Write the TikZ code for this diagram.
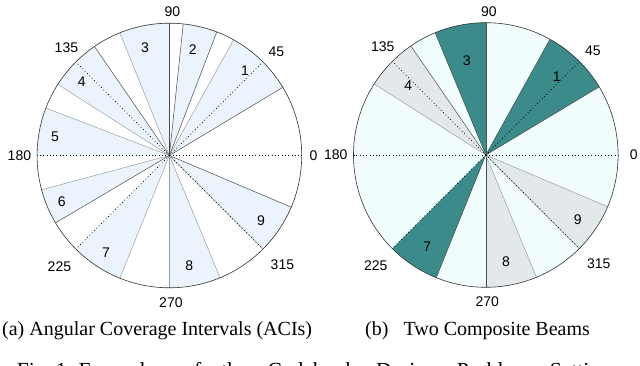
\documentclass[tikz,border=0pt]{standalone}
\usepackage{fontspec}
\setmainfont{Liberation Serif}
\newfontfamily\plotfont{Liberation Sans}
\usepackage{xcolor}
\definecolor{aciblue}{RGB}{235,243,253}
\definecolor{beamteal}{RGB}{58,139,137}
\definecolor{beamgray}{RGB}{227,233,235}
\definecolor{beampale}{RGB}{241,252,253}
\newcommand{\plotR}{132.3pt}
\tikzset{
  rim/.style={draw=black!80, line width=0.6pt},
  spoke/.style={draw=black!70, line width=0.5pt},
  spokelight/.style={draw=black!38, line width=0.5pt},
  gridline/.style={draw=black, line width=0.7pt, dash pattern=on 0.8pt off 2.5pt},
  tick/.style={font=\plotfont\fontsize{14}{16}\selectfont, inner sep=0pt},
  aci/.style={font=\plotfont\fontsize{14}{16}\selectfont, inner sep=0pt},
  caption/.style={font=\fontsize{20}{24}\selectfont, inner sep=0pt, anchor=base west}
}

\begin{document}
\begin{tikzpicture}[x=1pt, y=1pt]
  \useasboundingbox (0,0) rectangle (640,366);
  \coordinate (L) at (169.4,210.5);
  \coordinate (R) at (485.8,211);

  % (a) angular coverage intervals
  \fill[white] (L) circle[radius=\plotR];
  \fill[aciblue] (L) -- +(31:\plotR) arc[start angle=31, end angle=61, radius=\plotR] -- cycle;
  \fill[aciblue] (L) -- +(69:\plotR) arc[start angle=69, end angle=84, radius=\plotR] -- cycle;
  \fill[aciblue] (L) -- +(90:\plotR) arc[start angle=90, end angle=112, radius=\plotR] -- cycle;
  \fill[aciblue] (L) -- +(124.5:\plotR) arc[start angle=124.5, end angle=147.5, radius=\plotR] -- cycle;
  \fill[aciblue] (L) -- +(159:\plotR) arc[start angle=159, end angle=180, radius=\plotR] -- cycle;
  \fill[aciblue] (L) -- +(195:\plotR) arc[start angle=195, end angle=210.6, radius=\plotR] -- cycle;
  \fill[aciblue] (L) -- +(225:\plotR) arc[start angle=225, end angle=248, radius=\plotR] -- cycle;
  \fill[aciblue] (L) -- +(270:\plotR) arc[start angle=270, end angle=292.5, radius=\plotR] -- cycle;
  \fill[aciblue] (L) -- +(315:\plotR) arc[start angle=315, end angle=337, radius=\plotR] -- cycle;

  \draw[spoke] (L) -- +(31:\plotR);
  \draw[spokelight] (L) -- +(61:\plotR);
  \draw[spoke] (L) -- +(69:\plotR);
  \draw[spoke] (L) -- +(84:\plotR);
  \draw[spoke] (L) -- +(90:\plotR);
  \draw[spokelight] (L) -- +(112:\plotR);
  \draw[spoke] (L) -- +(124.5:\plotR);
  \draw[spokelight] (L) -- +(147.5:\plotR);
  \draw[spokelight] (L) -- +(159:\plotR);
  \draw[spokelight] (L) -- +(195:\plotR);
  \draw[spoke] (L) -- +(210.6:\plotR);
  \draw[spokelight] (L) -- +(248:\plotR);
  \draw[spokelight] (L) -- +(270:\plotR);
  \draw[spokelight] (L) -- +(292.5:\plotR);
  \draw[spokelight] (L) -- +(315:\plotR);
  \draw[spoke] (L) -- +(337:\plotR);

  \draw[gridline] (L) -- +(0:\plotR);
  \draw[gridline] (L) -- +(45:\plotR);
  \draw[gridline] (L) -- +(135:\plotR);
  \draw[gridline] (L) -- +(180:\plotR);
  \draw[gridline] (L) -- +(225:\plotR);
  \draw[gridline] (L) -- +(315:\plotR);
  \draw[rim] (L) circle[radius=\plotR];

  \node[tick] (la0) at ([shift={(144,0)}]L) {0};
  \node[tick] (la45) at ([shift={(107,104)}]L) {45};
  \node[tick] (la90) at ([shift={(3,143.5)}]L) {90};
  \node[tick] (la135) at ([shift={(-103,108)}]L) {135};
  \node[tick] (la180) at ([shift={(-150,0)}]L) {180};
  \node[tick] (la225) at ([shift={(-110,-111)}]L) {225};
  \node[tick] (la270) at ([shift={(1.5,-147)}]L) {270};
  \node[tick] (la315) at ([shift={(113,-109)}]L) {315};

  \node[aci] (a1) at (245,295.3) {1};
  \node[aci] (a2) at (192.7,316.7) {2};
  \node[aci] (a3) at (145,318.7) {3};
  \node[aci] (a4) at (81.7,284.3) {4};
  \node[aci] (a5) at (55,229.3) {5};
  \node[aci] (a6) at (61.7,164.3) {6};
  \node[aci] (a7) at (106,113.3) {7};
  \node[aci] (a8) at (189.3,100.3) {8};
  \node[aci] (a9) at (261,145.3) {9};

  % (b) two composite beams
  \fill[beampale] (R) circle[radius=\plotR];
  \fill[beamteal] (R) -- +(31:\plotR) arc[start angle=31, end angle=61, radius=\plotR] -- cycle;
  \fill[beamteal] (R) -- +(90:\plotR) arc[start angle=90, end angle=112.5, radius=\plotR] -- cycle;
  \fill[beamteal] (R) -- +(225:\plotR) arc[start angle=225, end angle=248, radius=\plotR] -- cycle;
  \fill[beamgray] (R) -- +(124.5:\plotR) arc[start angle=124.5, end angle=147.5, radius=\plotR] -- cycle;
  \fill[beamgray] (R) -- +(270:\plotR) arc[start angle=270, end angle=292.5, radius=\plotR] -- cycle;
  \fill[beamgray] (R) -- +(315:\plotR) arc[start angle=315, end angle=337, radius=\plotR] -- cycle;

  \draw[spoke] (R) -- +(31:\plotR);
  \draw[spoke] (R) -- +(61:\plotR);
  \draw[spoke] (R) -- +(90:\plotR);
  \draw[spoke] (R) -- +(112.5:\plotR);
  \draw[spoke] (R) -- +(124.5:\plotR);
  \draw[spokelight] (R) -- +(147.5:\plotR);
  \draw[spoke] (R) -- +(248:\plotR);
  \draw[spoke] (R) -- +(270:\plotR);
  \draw[spokelight] (R) -- +(292.5:\plotR);
  \draw[spokelight] (R) -- +(315:\plotR);
  \draw[spokelight] (R) -- +(337:\plotR);

  \draw[gridline] (R) -- +(0:\plotR);
  \draw[gridline] (R) -- +(45:\plotR);
  \draw[gridline] (R) -- +(135:\plotR);
  \draw[gridline] (R) -- +(180:\plotR);
  \draw[gridline] (R) -- +(225:\plotR);
  \draw[gridline] (R) -- +(315:\plotR);
  \draw[rim] (R) circle[radius=\plotR];

  \node[tick] (lb0) at ([shift={(148,0)}]R) {0};
  \node[tick] (lb45) at ([shift={(107,104)}]R) {45};
  \node[tick] (lb90) at ([shift={(3,143.5)}]R) {90};
  \node[tick] (lb135) at ([shift={(-103,108)}]R) {135};
  \node[tick] (lb180) at ([shift={(-150,0)}]R) {180};
  \node[tick] (lb225) at ([shift={(-110,-111)}]R) {225};
  \node[tick] (lb270) at ([shift={(1.5,-147)}]R) {270};
  \node[tick] (lb315) at ([shift={(113,-109)}]R) {315};

  \node[aci] (b1) at (556.7,289.3) {1};
  \node[aci] (b3) at (466.7,305) {3};
  \node[aci] (b4) at (408.3,280) {4};
  \node[aci] (b7) at (427.3,119.3) {7};
  \node[aci] (b8) at (506,104.3) {8};
  \node[aci] (b9) at (577.7,146) {9};

  % captions
  \node[caption] (capa) at (2,30.5) {(a) Angular Coverage Intervals (ACIs)};
  \node[caption] (capb) at (365,30.5) {(b)\hspace{15pt}Two Composite Beams};
  \node[caption, font=\fontsize{21.5}{24}\selectfont] (fig) at (16.7,-12)
    {\spaceskip=20pt Fig.\hspace{5pt}1:\hspace{6pt}Examples of the Codebook Design Problem Setting};
\end{tikzpicture}
\end{document}
